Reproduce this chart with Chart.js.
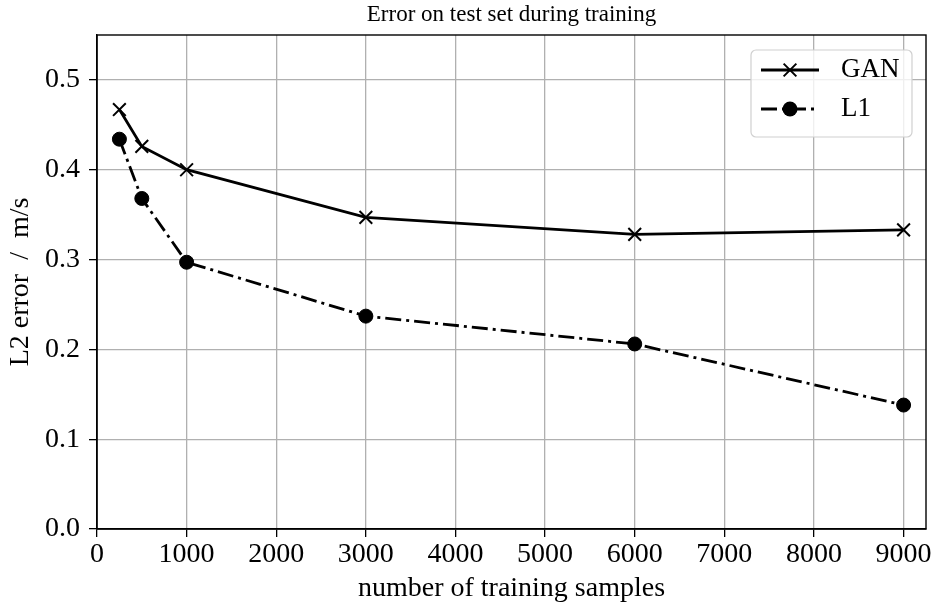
<!doctype html>
<html lang="en">
<head>
  <meta charset="utf-8" />
  <title>Error on test set during training</title>
  <script src="https://cdn.jsdelivr.net/npm/chart.js@4.4.1/dist/chart.umd.min.js"></script>
  <style>
    *{box-sizing:border-box;margin:0;padding:0}
    html,body{background:#fff}
    #wrap{width:933px;height:608px;position:relative}
  </style>
</head>
<body>
  <div id="wrap"><canvas id="chart"></canvas></div>

  <script>
    /* ===== data ===== */
    const samples  = [250, 500, 1000, 3000, 6000, 9000];
    const ganError = [0.467, 0.426, 0.400, 0.347, 0.328, 0.333];
    const l1Error  = [0.434, 0.368, 0.297, 0.237, 0.206, 0.138];
    const seriesNames = ['GAN', 'L1'];
    const xTicks = [0, 1000, 2000, 3000, 4000, 5000, 6000, 7000, 8000, 9000];
    const yTicks = [0.0, 0.1, 0.2, 0.3, 0.4, 0.5];

    const FONT = '"Liberation Serif","DejaVu Serif","Times New Roman",serif';
    const toPoints = ys => samples.map((x, i) => ({x, y: ys[i]}));
    const fixTicks = list => scale => { scale.ticks = list.map(v => ({value: v})); };

    /* --- black frame around the plot area (matplotlib style spines) --- */
    const framePlugin = {
      id: 'frame',
      afterDatasetsDraw(chart){
        const {ctx, chartArea: a} = chart;
        ctx.save();
        ctx.strokeStyle = '#000';
        ctx.lineWidth = 1.4;
        ctx.strokeRect(a.left, a.top, a.right - a.left, a.bottom - a.top);
        ctx.restore();
      }
    };

    /* --- legend with line + marker sample, built from the datasets --- */
    const lineLegend = {
      id: 'lineLegend',
      afterDraw(chart){
        const {ctx, chartArea: a} = chart;
        const boxW = 161, boxH = 87;
        const bx = a.right - 14 - boxW, by = a.top + 15;
        ctx.save();
        ctx.beginPath();
        ctx.roundRect(bx, by, boxW, boxH, 5);
        ctx.fillStyle = 'rgba(255,255,255,0.8)';
        ctx.fill();
        ctx.strokeStyle = '#d0d0d0';
        ctx.lineWidth = 1.2;
        ctx.stroke();

        chart.data.datasets.forEach((ds, i) => {
          const y = by + 20 + i * 39;
          const x0 = bx + 10, x1 = bx + 68, xm = (x0 + x1) / 2;
          ctx.strokeStyle = ds.borderColor;
          ctx.lineWidth = ds.borderWidth;
          ctx.setLineDash(ds.borderDash || []);
          ctx.beginPath(); ctx.moveTo(x0, y); ctx.lineTo(x1, y); ctx.stroke();
          ctx.setLineDash([]);
          const r = ds.pointRadius;
          if (ds.pointStyle === 'circle') {
            ctx.fillStyle = ds.pointBackgroundColor;
            ctx.beginPath(); ctx.arc(xm, y, r + 0.5, 0, Math.PI * 2); ctx.fill();
          } else {
            const d = r * Math.SQRT1_2;
            ctx.lineWidth = ds.pointBorderWidth;
            ctx.beginPath();
            ctx.moveTo(xm - d, y - d); ctx.lineTo(xm + d, y + d);
            ctx.moveTo(xm - d, y + d); ctx.lineTo(xm + d, y - d);
            ctx.stroke();
          }
          ctx.fillStyle = '#000';
          ctx.font = '27px ' + FONT;
          ctx.textBaseline = 'middle';
          ctx.fillText(ds.label, bx + 90, y);
        });
        ctx.restore();
      }
    };

    new Chart(document.getElementById('chart'), {
      type: 'line',
      data: {
        datasets: [
          {
            label: seriesNames[0],
            data: toPoints(ganError),
            borderColor: '#000',
            borderWidth: 2.8,
            pointStyle: 'crossRot',
            pointRadius: 9,
            pointBorderWidth: 2,
            pointBorderColor: '#000',
            pointBackgroundColor: '#000',
            tension: 0
          },
          {
            label: seriesNames[1],
            data: toPoints(l1Error),
            borderColor: '#000',
            borderWidth: 2.8,
            borderDash: [16, 5, 3, 5],
            pointStyle: 'circle',
            pointRadius: 7,
            pointBorderWidth: 1,
            pointBorderColor: '#000',
            pointBackgroundColor: '#000',
            tension: 0
          }
        ]
      },
      options: {
        responsive: true,
        maintainAspectRatio: false,
        animation: false,
        layout: {autoPadding: false, padding: {top: 0, right: 7, bottom: 0, left: 0}},
        plugins: {
          legend: {display: false},
          tooltip: {enabled: false},
          title: {
            display: true,
            fullSize: false,
            text: 'Error on test set during training',
            color: '#000',
            font: {family: FONT, size: 23, weight: 'normal', lineHeight: 1.2},
            padding: {top: 1, bottom: 6.4}
          }
        },
        scales: {
          x: {
            type: 'linear',
            min: 0, max: 9250,
            border: {color: '#000', width: 1.4},
            grid: {color: '#b0b0b0', lineWidth: 1.3, tickColor: '#000', tickLength: 8},
            afterBuildTicks: fixTicks(xTicks),
            ticks: {
              color: '#000', padding: 1, maxRotation: 0, autoSkip: false,
              font: {family: FONT, size: 28, lineHeight: 1.2},
              callback: v => String(v)
            },
            title: {
              display: true, text: 'number of training samples', color: '#000',
              font: {family: FONT, size: 28, lineHeight: 1.2},
              padding: {top: 0, bottom: 3}
            },
            afterFit: s => { s.height = 79; s.paddingLeft = 0; s.paddingRight = 0; }
          },
          y: {
            min: 0, max: 0.55,
            border: {color: '#000', width: 1.4},
            grid: {color: '#b0b0b0', lineWidth: 1.3, tickColor: '#000', tickLength: 8},
            afterBuildTicks: fixTicks(yTicks),
            ticks: {
              color: '#000', padding: 9,
              font: {family: FONT, size: 28, lineHeight: 1.2},
              callback: v => v.toFixed(1)
            },
            title: {
              display: true, text: 'L2 error  /  m/s', color: '#000',
              font: {family: FONT, size: 28, lineHeight: 1.2},
              padding: {top: 4, bottom: 0}
            },
            afterFit: s => { s.width = 97; s.paddingTop = 0; s.paddingBottom = 0; }
          }
        }
      },
      plugins: [framePlugin, lineLegend]
    });
  </script>
</body>
</html>
